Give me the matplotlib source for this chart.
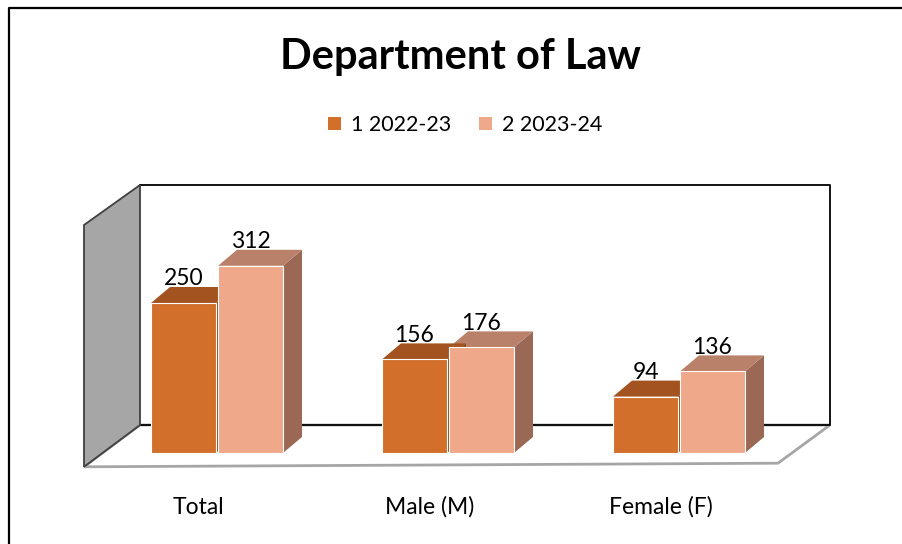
"""
Department of Law — enrolment by year, Excel-style 3D clustered columns.
"""
import matplotlib
matplotlib.use("Agg")
import matplotlib.pyplot as plt
from matplotlib.patches import Polygon, Patch
from matplotlib.lines import Line2D

# ---------------------------------------------------------------------
# Data
# ---------------------------------------------------------------------
categories = ["Total", "Male (M)", "Female (F)"]
series_names = ["1 2022-23", "2 2023-24"]
values_2022 = [250, 156, 94]
values_2023 = [312, 176, 136]
axis_max = 400

# ---------------------------------------------------------------------
# Style
# ---------------------------------------------------------------------
FONT = "Lato"
FRONT = ["#d26f2a", "#f0a88b"]
TOP = ["#a3531f", "#b9806a"]
SIDE = ["#8c4a1d", "#9b6856"]

W, H, DPI = 902, 544, 100
PX_PER_CAT = 231.0          # pixels between group centres
PX_PER_VAL = 0.6            # pixels per value unit
X0_PX, Y0_PX = 217.0, 453.0  # first group centre / bar baseline

BAR_W = 65 / PX_PER_CAT
GAP = 2 / PX_PER_CAT
DX, DY = 19 / PX_PER_CAT, 16 / PX_PER_VAL          # bar depth
FLOOR_FRONT = -12 / PX_PER_VAL
FLOOR_BACK = 28 / PX_PER_VAL
WALL_L_FRONT = (84 - X0_PX) / PX_PER_CAT
WALL_L_BACK = (140 - X0_PX) / PX_PER_CAT
WALL_R_BACK = (830 - X0_PX) / PX_PER_CAT
WALL_R_FRONT = (778 - X0_PX) / PX_PER_CAT

fig = plt.figure(figsize=(W / DPI, H / DPI), dpi=DPI)
ax = fig.add_axes([0, 0, 1, 1])
ax.set_xlim(-X0_PX / PX_PER_CAT, (W - X0_PX) / PX_PER_CAT)
ax.set_ylim(-(H - Y0_PX) / PX_PER_VAL, Y0_PX / PX_PER_VAL)
ax.axis("off")

# outer chart frame (only top and left edges are inside the picture)
fig.add_artist(Line2D([9 / W, 9 / W, 1], [0, 1 - 8 / H, 1 - 8 / H],
                      transform=fig.transFigure, color="black", lw=1.6))

# floor
wall_top = FLOOR_BACK + axis_max
ax.add_patch(Polygon([(WALL_L_FRONT, FLOOR_FRONT - 3), (WALL_L_BACK, FLOOR_BACK),
                      (WALL_R_BACK, FLOOR_BACK), (WALL_R_FRONT, FLOOR_FRONT + 3)],
                     closed=True, facecolor="white", edgecolor="#a6a6a6", lw=2.0,
                     zorder=1))
# back wall outline
ax.plot([WALL_L_BACK, WALL_R_BACK, WALL_R_BACK, WALL_L_BACK],
        [wall_top, wall_top, FLOOR_BACK, FLOOR_BACK],
        color="black", lw=1.3, zorder=2)
# left side wall
ax.add_patch(Polygon([(WALL_L_FRONT, FLOOR_FRONT - 3), (WALL_L_FRONT, wall_top - (FLOOR_BACK - FLOOR_FRONT)),
                      (WALL_L_BACK, wall_top), (WALL_L_BACK, FLOOR_BACK)],
                     closed=True, facecolor="#a6a6a6", edgecolor="#404040", lw=1.3,
                     zorder=2))


def draw_bar(x_left, value, s):
    x_right = x_left + BAR_W
    # side face
    ax.add_patch(Polygon([(x_right, 0), (x_right + DX, DY),
                          (x_right + DX, value + DY), (x_right, value)],
                         closed=True, facecolor=SIDE[s], edgecolor="none", zorder=3))
    # top face
    ax.add_patch(Polygon([(x_left, value), (x_left + DX, value + DY),
                          (x_right + DX, value + DY), (x_right, value)],
                         closed=True, facecolor=TOP[s], edgecolor="none", zorder=3))
    # front face
    ax.add_patch(Polygon([(x_left, 0), (x_left, value), (x_right, value), (x_right, 0)],
                         closed=True, facecolor=FRONT[s], edgecolor="white", lw=0.8,
                         zorder=4))
    ax.text(x_left + BAR_W / 2, value + DY - 4, str(value),
            ha="center", va="bottom", fontsize=16.5, family=FONT, color="black",
            zorder=6)


for i, cat in enumerate(categories):
    # series 2 first so series 1 side face is hidden behind it
    draw_bar(i + GAP / 2, values_2023[i], 1)
    draw_bar(i - GAP / 2 - BAR_W, values_2022[i], 0)
    ax.text(i - 0.08, -90, cat, ha="center", va="center", fontsize=16.5,
            family=FONT, color="black")

fig.text(460 / W, 1 - 57 / H, "Department of Law", ha="center", va="center",
         fontsize=30, fontweight="bold", family=FONT)

handles = [Patch(facecolor=FRONT[k], edgecolor="none", label=series_names[k])
           for k in range(2)]
fig.legend(handles=handles, loc="center", bbox_to_anchor=(465 / W, 1 - 125 / H),
           ncol=2, frameon=False, handlelength=0.6, handleheight=0.6,
           handletextpad=0.45, columnspacing=1.3,
           prop={"family": FONT, "size": 15.5})

fig.savefig("out.png", dpi=DPI)
